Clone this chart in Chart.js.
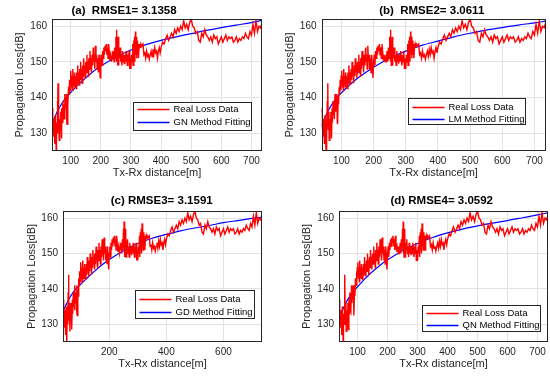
<!DOCTYPE html>
<html><head><meta charset="utf-8">
<script src="https://cdn.jsdelivr.net/npm/chart.js@4.4.1/dist/chart.umd.min.js"></script>
<style>
html,body{margin:0;padding:0;background:#fff;}
#wrap{position:relative;width:550px;height:376px;overflow:hidden;}
canvas{position:absolute;left:0;top:0;}
</style></head><body>
<div id="wrap">
<canvas id="c0" width="550" height="376"></canvas>
<canvas id="c1" width="550" height="376"></canvas>
<canvas id="c2" width="550" height="376"></canvas>
<canvas id="c3" width="550" height="376"></canvas>
</div>
<script>
// ---- data ----
const distance = [38,40,41,43,44,46,47,49,50,52,53,55,56,57,58,59,61,62,64,65,67,68,69,71,72,74,75,77,78,80,81,83,84,86,87,88,90,91,93,95,96,98,99,
101,103,104,106,107,109,110,112,113,115,117,118,120,122,123,125,127,128,130,132,133,135,137,138,140,142,143,145,147,148,150,152,154,155,157,159,160,162,164,166,167,169,171,173,175,176,178,180,182,184,186,188,190,192,194,196,198,200,
202,204,206,208,210,212,214,216,218,220,222,224,226,228,230,232,234,236,238,240,242,244,246,248,250,251,252,253,254,255,256,257,258,259,260,262,264,266,268,270,272,274,276,278,280,282,284,286,288,290,292,294,296,298,300,
302,304,306,307,309,310,312,313,315,316,318,319,321,322,324,325,327,329,331,333,336,340,343,346,349,352,355,358,361,364,367,370,373,376,379,382,385,388,391,394,397,
400,405,410,415,420,425,430,435,440,445,450,455,460,465,470,475,480,485,490,495,500,505,510,515,520,525,530,535,540,545,550,555,560,565,570,575,580,585,590,595,600,605,610,615,620,625,630,635,640,645,650,655,660,665,670,675,680,685,690,695,700,705,710,715,720,725,730,735];
const realLoss = [137,135,131,134,129,133,127,135,131,125,133,130,139,134,144,131,136,128,134,131,136,133,128.5,137,133,139,135,138,134,141,136,139,137,141,133,132.5,140,138,143,141,145,142,146,
147.5,143,146,142,148,144,146,143,147,144,146,142.5,147,144,149,145,147,143.5,148,145,150,146,148,144,149,146,151,147,149,145.5,150,147,152,148,150,146,151,148,153,149,151,147,152,149,154,150,152,148,154.5,150,152,148,151,147,152,149,145.5,150,
152,149,153,151,154,152,154.5,153,155,152,154,151,155,153,150.5,152,151,150,152,151,153,150,154,151,157,152,159,150,157,149,155,151,157,149,153,151,154,150,152,149,153,150,152,149.5,152,150,153,151,149,152,150,153,148,151,148,
152,150,155,149,156,151,157,150,158.5,152,157,151,156,152,155,151,154,155,154,155,154.5,155,152,152.5,151,153,151.5,152,150.7,152,153,151.5,153.5,152,154,152.5,153,151,153,154,152.5,
154,155.5,155,156.5,157.5,156,157,158,157,159,158,159.5,158.5,160,159,161.5,159.5,160.5,159,161,162,160,159.5,158,158.5,156,155.5,158,157,159,157.5,157,156,157,155.5,157.5,156.5,157,155,156,157,155.5,156.5,157.5,156,157,156.5,157,155.5,156,157,155.5,156.5,156,157,156.5,158,157,156.5,158.5,157.5,160.5,158,161.5,158.5,160,159.5,161];
const fitDistance = [38,50,60,70,80,90,100,125,150,175,200,250,300,350,400,450,500,550,600,650,700,735];
const fitGN = [132.7,135,136.8,138.2,139.5,140.5,141.4,143.6,145.5,147.3,148.8,151.3,153.3,154.8,156,157,157.9,158.8,159.6,160.3,161,161.6];
const fitLM = [132,134.6,136.5,138,139.3,140.4,141.3,143.5,145.4,147,148.5,151,153,154.6,155.8,157,158,158.9,159.6,160.3,160.9,161.4];
const fitGD = [133.6,135.7,137.3,138.6,139.7,140.5,141.3,143.3,145.1,146.8,148.3,150.8,152.8,154.3,155.4,156.4,157.2,157.9,158.7,159.3,159.9,160.3];
const fitQN = [131.5,134,135.9,137.4,138.7,139.7,140.6,142.9,144.9,146.7,148.2,150.8,152.8,154.5,155.8,156.9,157.8,158.6,159.3,160.1,160.9,161.5];
const xTicksFine = [100,200,300,400,500,600,700];
const xTicksCoarse = [200,400,600];
const yTicks = [130,140,150,160];
const panelTitles = ['(a)  RMSE1= 3.1358','(b)  RMSE2= 3.0611','(c) RMSE3= 3.1591','(d) RMSE4= 3.0592'];
const fitLabels = ['GN Method Fitting','LM Method Fitting','GD Method Fitting','QN Method Fitting'];
const fits = [fitGN, fitLM, fitGD, fitQN];

// ---- layout (page pixels) ----
const layouts = [
  {pl:13, yW:39, T:19, R:262, B:151, tx:124, ty:11, lg:{dx:80.7, dy:83.3, w:118, h:27.7, rows:[6.9,19.4]}, xt:xTicksFine},
  {pl:283, yW:38.5, T:19, R:545.7, B:151, tx:431.7, ty:11, lg:{dx:86.8, dy:78.7, w:117.4, h:25.6, rows:[8,20]}, xt:xTicksFine},
  {pl:25, yW:38, T:211, R:262, B:342, tx:161.7, ty:201, lg:{dx:72, dy:78.7, w:119, h:28.3, rows:[8.3,21]}, xt:xTicksCoarse},
  {pl:300, yW:39, T:211, R:548, B:342, tx:441.7, ty:201, lg:{dx:82.7, dy:93.7, w:118.3, h:26, rows:[7.6,19.3]}, xt:xTicksFine}
];
const XH = 29;
const FONT = '"Liberation Sans", Arial, Helvetica, sans-serif';

const decor = {
  id: 'decor',
  afterDatasetsDraw(chart, args, o) {
    const ctx = chart.ctx, a = chart.chartArea;
    ctx.save();
    ctx.strokeStyle = '#262626'; ctx.lineWidth = 1;
    const l = Math.round(a.left)+0.5, t = Math.round(a.top)+0.5;
    const r = Math.round(a.right)-0.5, b = Math.round(a.bottom)-0.5;
    ctx.strokeRect(l, t, r-l, b-t);
    ctx.fillStyle = '#000';
    ctx.font = 'bold 11.5px ' + FONT;
    ctx.textAlign = 'center'; ctx.textBaseline = 'middle';
    ctx.fillText(o.title, o.tx, o.ty);
    const g = o.lg;
    const bx = Math.round(a.left + g.dx)+0.5, by = Math.round(a.top + g.dy)+0.5;
    ctx.fillStyle = '#fff';
    ctx.fillRect(bx, by, g.w, g.h);
    ctx.strokeStyle = '#262626'; ctx.lineWidth = 1;
    ctx.strokeRect(bx, by, Math.round(g.w), Math.round(g.h));
    ctx.font = '9.5px ' + FONT;
    ctx.textAlign = 'left';
    chart.data.datasets.forEach((ds, i) => {
      const yy = Math.round(by + g.rows[i]) + 0.5;
      ctx.strokeStyle = ds.borderColor; ctx.lineWidth = 1.3;
      ctx.beginPath(); ctx.moveTo(bx+4, yy); ctx.lineTo(bx+36, yy); ctx.stroke();
      ctx.fillStyle = '#000';
      ctx.fillText(ds.label, bx+40, yy);
    });
    ctx.restore();
  }
};

layouts.forEach((L, k) => {
  new Chart(document.getElementById('c'+k), {
    type: 'line',
    data: {
      datasets: [
        {label:'Real Loss Data', data: distance.map((d,i)=>({x:d, y:realLoss[i]})), borderColor:'#ff0000', borderWidth:1.4, pointRadius:0, tension:0, fill:false},
        {label: fitLabels[k], data: fitDistance.map((d,i)=>({x:d, y:fits[k][i]})), borderColor:'#0000ff', borderWidth:1.2, pointRadius:0, cubicInterpolationMode:'monotone', fill:false}
      ]
    },
    options: {
      responsive:false, animation:false, devicePixelRatio:1,
      events: [],
      layout:{padding:{left:L.pl, top:L.T, right:550-L.R, bottom:376-(L.B+XH)}},
      plugins:{
        legend:{display:false}, tooltip:{enabled:false},
        decor:{title:panelTitles[k], tx:L.tx, ty:L.ty, lg:L.lg}
      },
      scales:{
        x:{type:'linear', min:38, max:735,
          afterBuildTicks:(s)=>{ s.ticks = L.xt.map(v=>({value:v})); },
          afterFit:(s)=>{ s.height = XH; },
          grid:{color:'#e3e3e3', drawTicks:false, lineWidth:1},
          border:{display:false},
          ticks:{autoSkip:false, maxRotation:0, padding:4, color:'#262626', font:{family:FONT, size:10}},
          title:{display:true, text:'Tx-Rx distance[m]', color:'#262626', padding:0, font:{family:FONT, size:11}}
        },
        y:{type:'linear', min:125, max:162,
          afterBuildTicks:(s)=>{ s.ticks = yTicks.map(v=>({value:v})); },
          afterFit:(s)=>{ s.width = L.yW; },
          grid:{color:'#e3e3e3', drawTicks:false, lineWidth:1},
          border:{display:false},
          ticks:{padding:5, color:'#262626', font:{family:FONT, size:10}},
          title:{display:true, text:'Propagation Loss[dB]', color:'#262626', padding:0, font:{family:FONT, size:11}}
        }
      }
    },
    plugins:[decor]
  });
});
</script>
</body></html>
